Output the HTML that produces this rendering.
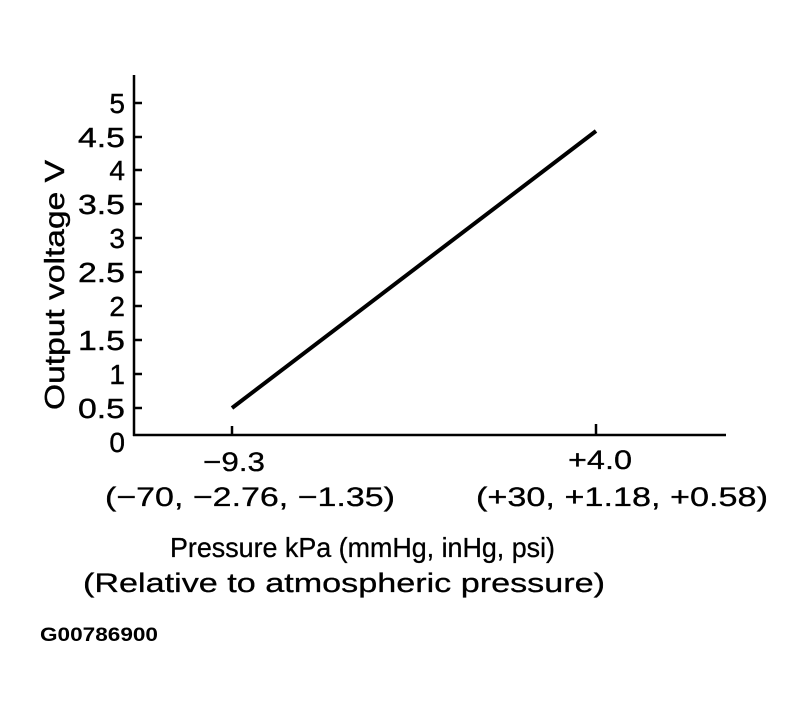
<!DOCTYPE html>
<html><head><meta charset="utf-8"><style>
html,body{margin:0;padding:0;background:#fff;}
svg{display:block;}
text{font-family:"Liberation Sans",sans-serif;fill:#000;}
</style></head><body>
<svg width="806" height="715" viewBox="0 0 806 715" xmlns="http://www.w3.org/2000/svg">
<g stroke="#000" stroke-width="2.5" fill="none">
<line x1="134" y1="75" x2="134" y2="436"/>
<line x1="133" y1="435" x2="726" y2="435"/>
<line x1="134" y1="103" x2="142" y2="103"/>
<line x1="134" y1="137" x2="142" y2="137"/>
<line x1="134" y1="170" x2="142" y2="170"/>
<line x1="134" y1="204" x2="142" y2="204"/>
<line x1="134" y1="238" x2="142" y2="238"/>
<line x1="134" y1="272" x2="142" y2="272"/>
<line x1="134" y1="306" x2="142" y2="306"/>
<line x1="134" y1="340" x2="142" y2="340"/>
<line x1="134" y1="374" x2="142" y2="374"/>
<line x1="134" y1="408" x2="142" y2="408"/>
<line x1="232" y1="426" x2="232" y2="435"/>
<line x1="596" y1="424" x2="596" y2="435"/>
<line x1="232" y1="408" x2="596" y2="131" stroke-width="4"/>
</g>
<g font-size="28" text-anchor="end" stroke="#000" stroke-width="0.4">
<text x="125" y="113">5</text>
<text x="125" y="147" textLength="47" lengthAdjust="spacingAndGlyphs">4.5</text>
<text x="125" y="180">4</text>
<text x="125" y="214" textLength="47" lengthAdjust="spacingAndGlyphs">3.5</text>
<text x="125" y="248">3</text>
<text x="125" y="282" textLength="47" lengthAdjust="spacingAndGlyphs">2.5</text>
<text x="125" y="316">2</text>
<text x="125" y="350" textLength="47" lengthAdjust="spacingAndGlyphs">1.5</text>
<text x="125" y="384">1</text>
<text x="125" y="418" textLength="47" lengthAdjust="spacingAndGlyphs">0.5</text>
<text x="125" y="452">0</text>
</g>
<text transform="translate(64,410) rotate(-90)" font-size="28" textLength="250" lengthAdjust="spacingAndGlyphs" stroke="#000" stroke-width="0.4">Output voltage V</text>
<g font-size="27" stroke="#000" stroke-width="0.3">
<text x="203" y="471" textLength="62" lengthAdjust="spacingAndGlyphs">−9.3</text>
<text x="568" y="469" textLength="64" lengthAdjust="spacingAndGlyphs">+4.0</text>
<text x="105" y="506" textLength="290" lengthAdjust="spacingAndGlyphs">(−70, −2.76, −1.35)</text>
<text x="476" y="506" textLength="292" lengthAdjust="spacingAndGlyphs">(+30, +1.18, +0.58)</text>
<text x="170" y="557" font-size="28" textLength="385" lengthAdjust="spacingAndGlyphs">Pressure kPa (mmHg, inHg, psi)</text>
<text x="83" y="592" textLength="522" lengthAdjust="spacingAndGlyphs">(Relative to atmospheric pressure)</text>
</g>
<text x="40" y="641" font-size="19" font-weight="bold" textLength="118" lengthAdjust="spacingAndGlyphs">G00786900</text>
</svg>
</body></html>
